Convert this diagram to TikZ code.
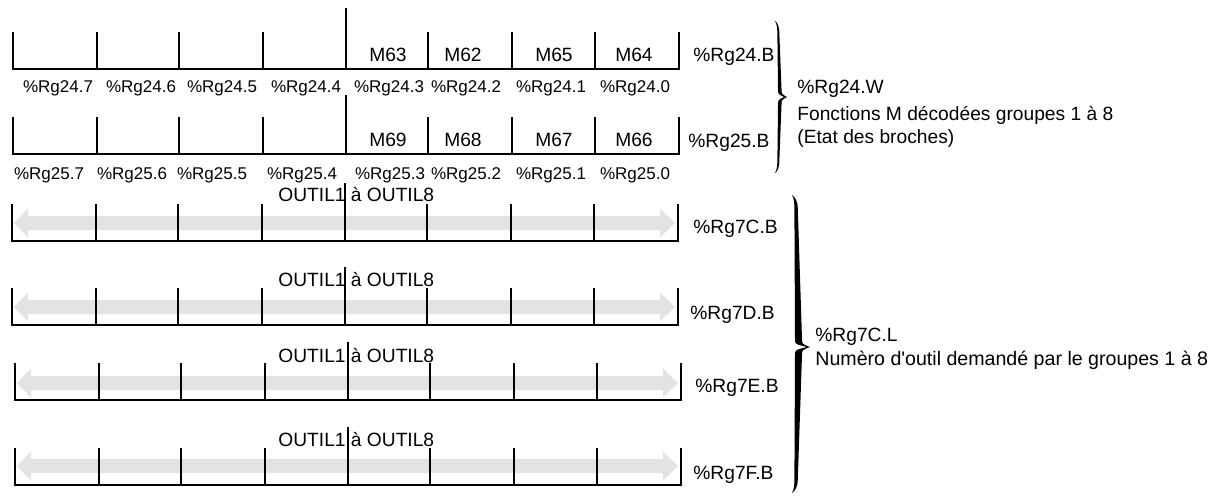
\documentclass[tikz,border=0pt]{standalone}
\usepackage{fontspec}
\setmainfont{Liberation Sans}[Ligatures=TeXOff]
\usetikzlibrary{positioning}
\definecolor{flechegris}{HTML}{E3E3E3}

% accolade pleine : x, haut, pointe, bas, saillie de la pointe, epaisseur
\newcommand{\accolade}[6]{%
  \fill (#1-3,#2) .. controls (#1,#2+2) and (#1+0.4*#6,#2+6) .. (#1+0.4*#6,#2+14)
    -- (#1+#6,#3-8) .. controls (#1+#6,#3-3) .. (#1+#5,#3)
    .. controls (#1+#6,#3+3) .. (#1+#6,#3+8)
    -- (#1+0.4*#6,#4-14) .. controls (#1+0.4*#6,#4-6) and (#1,#4-2) .. (#1-3,#4)
    .. controls (#1-1,#4-3) and (#1-0.6,#4-8) .. (#1-0.6,#4-14)
    -- (#1,#3+8) .. controls (#1,#3+3) .. (#1+#5-3,#3)
    .. controls (#1,#3-3) .. (#1,#3-8)
    -- (#1-0.6,#2+14) .. controls (#1-0.6,#2+8) and (#1-1,#2+3) .. (#1-3,#2) -- cycle;}

\begin{document}
\begin{tikzpicture}[x=0.5pt, y=-0.5pt,
    trait/.style={line width=1pt},
    txt/.style={font=\fontsize{9.6}{11}\selectfont, inner sep=0pt, anchor=base},
    bit/.style={font=\fontsize{8.5}{10}\selectfont, inner sep=0pt, anchor=base}]

  \useasboundingbox (0,0) rectangle (1211,495);

  % fleches grises des registres outils
  \foreach \c/\dx in {223/-1, 307/-1, 383/2, 466/2}{
    \fill[flechegris] (15+\dx,\c) -- (29+\dx,\c-14.5) -- (29+\dx,\c-7) -- (661+\dx,\c-7)
      -- (661+\dx,\c-14.5) -- (676+\dx,\c) -- (661+\dx,\c+14.5) -- (661+\dx,\c+7)
      -- (29+\dx,\c+7) -- (29+\dx,\c+14.5) -- cycle;
  }

  % cadres des registres
  \foreach \y/\dx/\h in {69/0/8, 154/0/95, 241/-1/183, 325/-1/267, 400/2/342, 485/2/427}{
    \draw[trait] (13+\dx,\y-37) -- (13+\dx,\y) -- (679+\dx,\y) -- (679+\dx,\y-37);
    \foreach \x in {97,179,263,428,512,595}
      \draw[trait] (\x+\dx,\y-37) -- (\x+\dx,\y);
    \draw[trait] (346+\dx,\h) -- (346+\dx,\y);
  }

  % fonctions M
  \foreach \m/\x in {M63/388, M62/463, M65/554, M64/634}
    \node[txt] (\m) at (\x,61.7) {\m};
  \foreach \m/\x in {M69/388, M68/463, M67/554, M66/634}
    \node[txt] (\m) at (\x,146.7) {\m};

  % bits
  \foreach \i/\x in {7/58, 6/141, 5/222, 4/306, 3/389, 2/466, 1/551, 0/635}
    \node[bit] (b24-\i) at (\x,92.7) {\%Rg24.\i};
  \foreach \i/\x in {7/49, 6/132, 5/212, 4/302, 3/390, 2/466, 1/551, 0/635}
    \node[bit] (b25-\i) at (\x,179) {\%Rg25.\i};

  % outils
  \foreach \b [count=\k] in {201, 286, 362.7, 446.7}
    \node[txt, anchor=base west] (outil\k) at (278,\b) {OUTIL1 à OUTIL8};

  % noms des registres
  \node[txt, anchor=base west] (rg24b) at (693,61.7) {\%Rg24.B};
  \node[txt, anchor=base west] (rg25b) at (688,147.5) {\%Rg25.B};
  \node[txt, anchor=base west] (rg7cb) at (693,233) {\%Rg7C.B};
  \node[txt, anchor=base west] (rg7db) at (690,319) {\%Rg7D.B};
  \node[txt, anchor=base west] (rg7eb) at (695,392.7) {\%Rg7E.B};
  \node[txt, anchor=base west] (rg7fb) at (693,479.3) {\%Rg7F.B};

  % accolades
  \accolade{778}{21}{97}{173}{9}{3.5}
  \accolade{795}{195}{347}{493}{15}{7}

  \node[txt, anchor=base west] (rg24w) at (797,93.3) {\%Rg24.W};
  \node[txt, anchor=base west] (fonct) at (797,120) {Fonctions M décodées groupes 1 à 8};
  \node[txt, anchor=base west] (etat) at (797,143.3) {(Etat des broches)};
  \node[txt, anchor=base west] (rg7cl) at (815,341.7) {\%Rg7C.L};
  \node[txt, anchor=base west, font=\fontsize{9.8}{11}\selectfont] (numero) at (815,365) {Numèro d'outil demandé par le groupes 1 à 8};
\end{tikzpicture}
\end{document}
